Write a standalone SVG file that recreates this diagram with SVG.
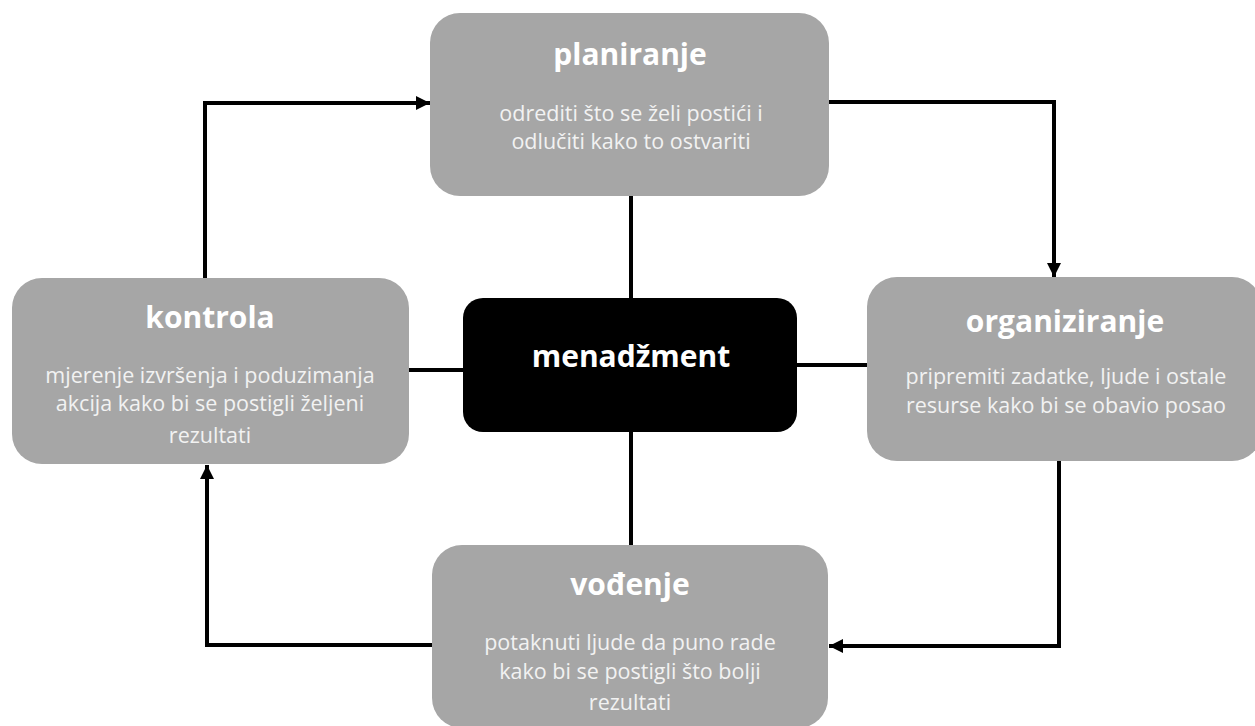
<svg xmlns="http://www.w3.org/2000/svg" width="1255" height="726" viewBox="0 0 1255 726">
<defs>
<style>
.box{fill:#a6a6a6}
.title{font-family:"Open Sans","Liberation Sans",sans-serif;font-weight:700;font-size:30px;fill:#ffffff;text-anchor:middle}
.body{font-family:"Open Sans","Liberation Sans",sans-serif;font-size:21.5px;fill:#f2f2f2;text-anchor:middle}
.conn{fill:none;stroke:#000;stroke-width:4;stroke-linejoin:miter}
</style>
<marker id="arr" viewBox="0 0 10 10" refX="10" refY="5" markerWidth="3.6" markerHeight="3.6" orient="auto" markerUnits="strokeWidth">
<path d="M0,0 L10,5 L0,10 z" fill="#000"/>
</marker>
</defs>
<rect width="1255" height="726" fill="#ffffff"/>
<g id="connectors">
<path class="conn" d="M205,278 V103 H430" marker-end="url(#arr)"/>
<path class="conn" d="M829,102 H1054 V277" marker-end="url(#arr)"/>
<path class="conn" d="M1059,461 V646 H829" marker-end="url(#arr)"/>
<path class="conn" d="M432,645 H207 V465" marker-end="url(#arr)"/>
<path class="conn" d="M631,196 V298"/>
<path class="conn" d="M631,432 V545"/>
<path class="conn" d="M409,370 H463"/>
<path class="conn" d="M797,365 H868"/>
</g>
<g id="planiranje">
<rect class="box" x="430" y="13" width="399" height="183" rx="30"/>
<text class="title" x="630" y="65">planiranje</text>
<text class="body" x="631" y="121">odrediti što se želi postići i</text>
<text class="body" x="631" y="149">odlučiti kako to ostvariti</text>
</g>
<g id="kontrola">
<rect class="box" x="12" y="278" width="397" height="186" rx="30"/>
<text class="title" x="210" y="328">kontrola</text>
<text class="body" x="210" y="383">mjerenje izvršenja i poduzimanja</text>
<text class="body" x="210" y="411">akcija kako bi se postigli željeni</text>
<text class="body" x="210" y="443">rezultati</text>
</g>
<g id="organiziranje">
<rect class="box" x="867" y="277" width="395" height="184" rx="30"/>
<text class="title" x="1065" y="332">organiziranje</text>
<text class="body" x="1066" y="384">pripremiti zadatke, ljude i ostale</text>
<text class="body" x="1066" y="413">resurse kako bi se obavio posao</text>
</g>
<g id="vodjenje">
<rect class="box" x="432" y="545" width="396" height="183" rx="30"/>
<text class="title" x="630" y="595">vođenje</text>
<text class="body" x="630" y="650">potaknuti ljude da puno rade</text>
<text class="body" x="630" y="679">kako bi se postigli što bolji</text>
<text class="body" x="630" y="710">rezultati</text>
</g>
<g id="menadzment">
<rect x="463" y="298" width="334" height="134" rx="20" fill="#000"/>
<text class="title" x="631" y="367">menadžment</text>
</g>
</svg>
